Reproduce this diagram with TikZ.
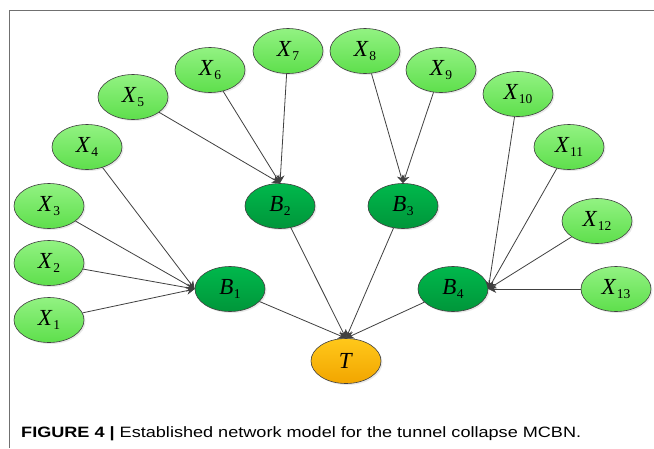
\documentclass[tikz,border=0pt]{standalone}
\usepackage{fontspec}
\setmainfont{Liberation Serif}
\newfontfamily\capfont{Liberation Sans}
\usetikzlibrary{arrows.meta,shadows,shapes.geometric}
\newcommand\lbl[2]{\textit{#1}\kern0.5pt\raisebox{-3.8pt}{\fontsize{13.5}{13.5}\selectfont #2}}
\definecolor{xtop}{HTML}{92F282}
\definecolor{xbot}{HTML}{5EDF4C}
\definecolor{btop}{HTML}{00B84C}
\definecolor{bbot}{HTML}{00963A}
\definecolor{ttop}{HTML}{FFC81A}
\definecolor{tbot}{HTML}{F2A500}
\definecolor{edgec}{HTML}{404040}
\definecolor{framec}{HTML}{707070}
\tikzset{
  nd/.style={ellipse, draw=edgec, line width=0.6pt, minimum width=70pt, minimum height=45pt, inner sep=0pt,
    font=\fontsize{23}{23}\selectfont,
    drop shadow={opacity=0.18, shadow xshift=1.5pt, shadow yshift=-1.5pt}},
  xnode/.style={nd, top color=xtop, bottom color=xbot},
  bnode/.style={nd, top color=btop, bottom color=bbot},
  tnode/.style={nd, top color=ttop, bottom color=tbot},
  conn/.style={draw=edgec, line width=0.8pt, -{Stealth[length=8pt,width=8pt]}},
}
\begin{document}
\begin{tikzpicture}[x=1pt,y=-1pt]
\useasboundingbox (0,0) rectangle (654,448);
\fill[white] (0,0) rectangle (654,448);
\draw[framec, line width=1pt] (9,448) -- (9,10.5) -- (654,10.5);
\node[xnode] (X1) at (49,320) {\lbl{X}{1}};
\node[xnode] (X2) at (49,263) {\lbl{X}{2}};
\node[xnode] (X3) at (49,206) {\lbl{X}{3}};
\node[xnode] (X4) at (87,147) {\lbl{X}{4}};
\node[xnode] (X5) at (133,97) {\lbl{X}{5}};
\node[xnode] (X6) at (210,70) {\lbl{X}{6}};
\node[xnode] (X7) at (288,51) {\lbl{X}{7}};
\node[xnode] (X8) at (365,51) {\lbl{X}{8}};
\node[xnode] (X9) at (441,70) {\lbl{X}{9}};
\node[xnode] (X10) at (518,94) {\lbl{X}{10}};
\node[xnode] (X11) at (569,147) {\lbl{X}{11}};
\node[xnode] (X12) at (597,221) {\lbl{X}{12}};
\node[xnode] (X13) at (616,289) {\lbl{X}{13}};
\node[bnode] (B1) at (230,289) {\lbl{B}{1}};
\node[bnode] (B2) at (280,206) {\lbl{B}{2}};
\node[bnode] (B3) at (403,206) {\lbl{B}{3}};
\node[bnode] (B4) at (453,289) {\lbl{B}{4}};
\node[tnode] (T) at (346,361) {\textit{T}};
\foreach \s in {X1,X2,X3,X4} \draw[conn] (\s) -- (B1.west);
\foreach \s in {X5,X6,X7} \draw[conn] (\s) -- (B2.north);
\foreach \s in {X8,X9} \draw[conn] (\s) -- (B3.north);
\foreach \s in {X10,X11,X12,X13} \draw[conn] (\s) -- (B4.east);
\foreach \s in {B1,B2,B3,B4} \draw[conn] (\s) -- (T.north);
\node[anchor=base west, inner sep=0pt, font=\capfont\fontsize{15}{15}\selectfont] (cap) at (21,437)
  {\resizebox{560pt}{\height}{\textbf{FIGURE 4 |} Established network model for the tunnel collapse MCBN.}};
\end{tikzpicture}
\end{document}
